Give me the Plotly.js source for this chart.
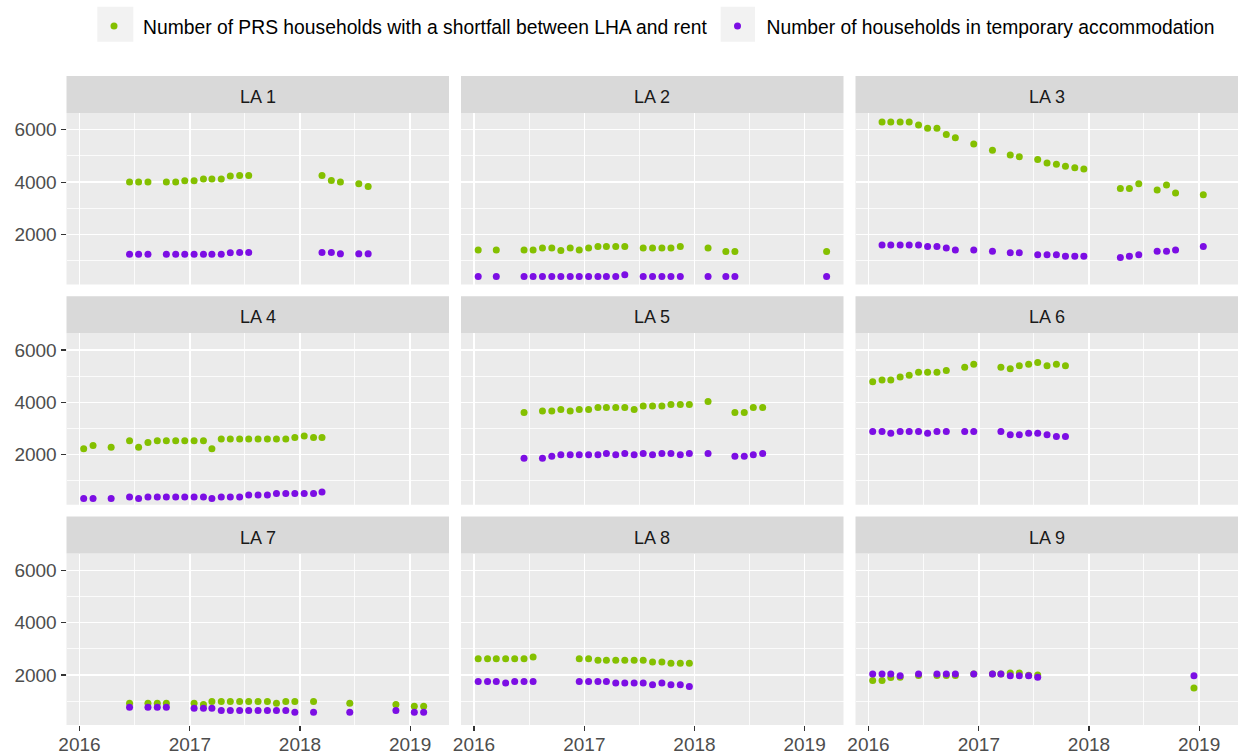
<!DOCTYPE html>
<html>
<head>
<meta charset="utf-8">
<script src="https://cdn.plot.ly/plotly-3.0.1.min.js"></script>
<style>
  html, body { margin: 0; padding: 0; background: #ffffff; }
  #chart { width: 1239px; height: 756px; }
</style>
</head>
<body>
<div id="chart"></div>
<script>
// ---- data ---------------------------------------------------------------
const panelNames = ['LA 1', 'LA 2', 'LA 3', 'LA 4', 'LA 5', 'LA 6', 'LA 7', 'LA 8', 'LA 9'];
const seriesNames = [
  'Number of PRS households with a shortfall between LHA and rent',
  'Number of households in temporary accommodation'
];
const yearTicks = [2016, 2017, 2018, 2019];
const valueTicks = [2000, 4000, 6000];

const la1Months = ['2016-06','2016-07','2016-08','2016-10','2016-11','2016-12','2017-01','2017-02','2017-03','2017-04','2017-05','2017-06','2017-07','2018-03','2018-04','2018-05','2018-07','2018-08'];
const la1Shortfall = [4000,4000,4000,4000,4000,4050,4050,4120,4120,4120,4230,4250,4250,4250,4060,4000,3940,3830];
const la1Temporary = [1250,1250,1250,1250,1250,1250,1250,1250,1250,1250,1300,1310,1310,1310,1310,1260,1260,1260];

const la2Months = ['2016-01','2016-03','2016-06','2016-07','2016-08','2016-09','2016-10','2016-11','2016-12','2017-01','2017-02','2017-03','2017-04','2017-05','2017-07','2017-08','2017-09','2017-10','2017-11','2018-02','2018-04','2018-05','2019-03'];
const la2Shortfall = [1410,1410,1410,1410,1480,1480,1390,1480,1410,1480,1540,1540,1540,1540,1480,1480,1480,1480,1540,1480,1350,1350,1350];
const la2Temporary = [400,400,400,400,400,400,400,400,400,400,400,400,400,460,400,400,400,400,400,400,400,400,400];

const la3Months = ['2016-02','2016-03','2016-04','2016-05','2016-06','2016-07','2016-08','2016-09','2016-10','2016-12','2017-02','2017-04','2017-05','2017-07','2017-08','2017-09','2017-10','2017-11','2017-12','2018-04','2018-05','2018-06','2018-08','2018-09','2018-10','2019-01'];
const la3Shortfall = [6300,6300,6300,6300,6180,6060,6060,5820,5690,5460,5220,5040,4970,4860,4730,4680,4610,4550,4500,3760,3760,3940,3700,3890,3580,3520];
const la3Temporary = [1600,1600,1600,1600,1600,1540,1540,1480,1410,1410,1360,1300,1300,1230,1230,1230,1170,1170,1170,1120,1170,1230,1360,1360,1410,1540];

const la4Months = ['2016-01','2016-02','2016-04','2016-06','2016-07','2016-08','2016-09','2016-10','2016-11','2016-12','2017-01','2017-02','2017-03','2017-04','2017-05','2017-06','2017-07','2017-08','2017-09','2017-10','2017-11','2017-12','2018-01','2018-02','2018-03'];
const la4Shortfall = [2230,2350,2290,2530,2290,2470,2530,2530,2530,2530,2530,2530,2230,2600,2600,2600,2600,2600,2600,2600,2600,2660,2720,2660,2660];
const la4Temporary = [330,330,330,390,330,390,390,390,390,390,390,390,330,390,390,390,460,460,460,520,520,520,520,520,580];

const la5Months = ['2016-06','2016-08','2016-09','2016-10','2016-11','2016-12','2017-01','2017-02','2017-03','2017-04','2017-05','2017-06','2017-07','2017-08','2017-09','2017-10','2017-11','2017-12','2018-02','2018-05','2018-06','2018-07','2018-08'];
const la5Shortfall = [3610,3670,3670,3730,3670,3730,3730,3800,3800,3800,3800,3730,3860,3860,3860,3920,3920,3920,4030,3610,3610,3800,3800];
const la5Temporary = [1870,1870,1940,2000,2000,2000,2000,2000,2050,2000,2050,2000,2050,2000,2050,2050,2000,2050,2050,1940,1940,2000,2050];

const la6Months = ['2016-01','2016-02','2016-03','2016-04','2016-05','2016-06','2016-07','2016-08','2016-09','2016-11','2016-12','2017-03','2017-04','2017-05','2017-06','2017-07','2017-08','2017-09','2017-10'];
const la6Shortfall = [4790,4850,4850,4970,5040,5150,5150,5150,5220,5340,5460,5340,5280,5400,5460,5520,5400,5460,5400];
const la6Temporary = [2890,2890,2820,2890,2890,2890,2820,2890,2890,2890,2890,2890,2760,2760,2820,2820,2760,2700,2700];

const la7Months = ['2016-06','2016-08','2016-09','2016-10','2017-01','2017-02','2017-03','2017-04','2017-05','2017-06','2017-07','2017-08','2017-09','2017-10','2017-11','2017-12','2018-02','2018-06','2018-11','2019-01','2019-02'];
const la7Shortfall = [920,920,920,920,920,870,990,990,990,990,990,990,990,920,990,990,990,920,870,810,810];
const la7Temporary = [770,770,770,770,730,730,730,640,640,640,640,640,640,640,640,580,580,580,640,580,580];

const la8Months = ['2016-01','2016-02','2016-03','2016-04','2016-05','2016-06','2016-07','2016-12','2017-01','2017-02','2017-03','2017-04','2017-05','2017-06','2017-07','2017-08','2017-09','2017-10','2017-11','2017-12'];
const la8Shortfall = [2620,2620,2620,2620,2620,2620,2690,2620,2620,2560,2560,2560,2560,2560,2560,2500,2500,2450,2450,2450];
const la8Temporary = [1750,1750,1750,1690,1750,1750,1750,1750,1750,1750,1750,1690,1690,1690,1690,1630,1690,1630,1630,1560];

const la9Months = ['2016-01','2016-02','2016-03','2016-04','2016-06','2016-08','2016-09','2016-10','2016-12','2017-02','2017-03','2017-04','2017-05','2017-06','2017-07','2018-12'];
const la9Shortfall = [1790,1790,1900,1910,1980,1980,1980,1980,2040,2040,2040,2080,2080,1990,2000,1500];
const la9Temporary = [2040,2040,2040,1970,2040,2040,2040,2040,2040,2040,2040,1970,1970,1970,1910,1970];

// ---- styling ------------------------------------------------------------
const W = 1239, H = 756;
const FONT = 'Liberation Sans, Arial, sans-serif';
const seriesColors = ['#84C000', '#7C0EE4'];

const panels = [
  { months: la1Months, values: [la1Shortfall, la1Temporary] },
  { months: la2Months, values: [la2Shortfall, la2Temporary] },
  { months: la3Months, values: [la3Shortfall, la3Temporary] },
  { months: la4Months, values: [la4Shortfall, la4Temporary] },
  { months: la5Months, values: [la5Shortfall, la5Temporary] },
  { months: la6Months, values: [la6Shortfall, la6Temporary] },
  { months: la7Months, values: [la7Shortfall, la7Temporary] },
  { months: la8Months, values: [la8Shortfall, la8Temporary] },
  { months: la9Months, values: [la9Shortfall, la9Temporary] }
];

// facet grid geometry (pixels)
const colLeft = [66.5, 461, 855.5], colWidth = 382.5;
const rowTop = [76, 296.25, 516.5], stripH = 37, panelH = 171.5;
const px = v => v / W;
const py = v => 1 - v / H;

const xRange = ['2015-11-19', '2019-05-10'];
const yRange = [90, 6640];
const yearDate = y => y + '-01-01';
const midYear = y => y + '-07-02';

const traces = [];
const layout = {
  width: W, height: H,
  margin: { l: 0, r: 0, t: 0, b: 0, autoexpand: false },
  paper_bgcolor: '#ffffff',
  plot_bgcolor: '#EBEBEB',
  font: { family: FONT, color: '#4D4D4D' },
  showlegend: true,
  legend: {
    orientation: 'h',
    x: 85 / W, y: py(7), xanchor: 'left', yanchor: 'top',
    font: { family: FONT, size: 19.3, color: '#000000' },
    itemwidth: 48,
    bgcolor: 'rgba(0,0,0,0)',
    borderwidth: 0
  },
  shapes: [],
  annotations: [],
  hovermode: false
};

// grey key backgrounds behind the legend symbols
[[97.3, 133.3], [720.7, 755]].forEach(([a, b]) => {
  layout.shapes.push({
    type: 'rect', xref: 'paper', yref: 'paper', layer: 'below',
    x0: px(a), x1: px(b), y0: py(41.7), y1: py(6.7),
    fillcolor: '#F2F2F2', line: { width: 0 }
  });
});

panels.forEach((p, i) => {
  const r = Math.floor(i / 3), c = i % 3;
  const sfx = i === 0 ? '' : String(i + 1);
  const x = p.months.map(m => m + '-15');

  p.values.forEach((vals, s) => {
    const tr = {
      type: 'scatter', mode: 'markers',
      x: x, y: vals,
      xaxis: 'x' + sfx, yaxis: 'y' + sfx,
      name: seriesNames[s], legendgroup: 's' + s,
      showlegend: i === 0,
      marker: { color: seriesColors[s], size: 7, line: { width: 0 } },
      cliponaxis: false
    };
    // fixed width for the first legend entry so the second key lines up
    if (i === 0 && s === 0) tr.legendwidth = 560.5;
    traces.push(tr);
  });

  const top = rowTop[r] + stripH, bottom = top + panelH;
  const left = colLeft[c], right = colLeft[c] + colWidth;
  const bottomRow = r === 2, leftCol = c === 0;

  layout['xaxis' + sfx] = {
    type: 'date', domain: [px(left), px(right)], anchor: 'y' + sfx,
    range: xRange, fixedrange: true,
    tickmode: 'array',
    tickvals: yearTicks.map(yearDate),
    ticktext: yearTicks.map(String),
    showticklabels: bottomRow,
    ticks: bottomRow ? 'outside' : '', ticklen: 5, tickwidth: 1.1, tickcolor: '#333333',
    ticklabelstandoff: -3,
    tickfont: { family: FONT, size: 19, color: '#4D4D4D' },
    showgrid: true, gridcolor: '#ffffff', gridwidth: 1.4,
    minor: { tickmode: 'array', tickvals: yearTicks.slice(0, 3).map(midYear), showgrid: true, gridcolor: '#ffffff', gridwidth: 0.8, ticks: '' },
    zeroline: false, showline: false
  };
  layout['yaxis' + sfx] = {
    domain: [py(bottom), py(top)], anchor: 'x' + sfx,
    range: yRange, fixedrange: true,
    tickmode: 'array', tickvals: valueTicks, ticktext: valueTicks.map(String),
    showticklabels: leftCol,
    ticks: leftCol ? 'outside' : '', ticklen: 5, tickwidth: 1.1, tickcolor: '#333333',
    tickfont: { family: FONT, size: 19, color: '#4D4D4D' },
    showgrid: true, gridcolor: '#ffffff', gridwidth: 1.4,
    minor: { tickmode: 'array', tickvals: [1000, 3000, 5000], showgrid: true, gridcolor: '#ffffff', gridwidth: 0.8, ticks: '' },
    zeroline: false, showline: false
  };

  // facet strip
  layout.shapes.push({
    type: 'rect', xref: 'paper', yref: 'paper', layer: 'below',
    x0: px(left), x1: px(right), y0: py(top), y1: py(rowTop[r]),
    fillcolor: '#D9D9D9', line: { width: 0 }
  });
  layout.annotations.push({
    xref: 'paper', yref: 'paper',
    x: px((left + right) / 2), y: py(rowTop[r] + stripH / 2),
    xanchor: 'center', yanchor: 'middle', yshift: -2.5,
    text: panelNames[i], showarrow: false,
    font: { family: FONT, size: 18, color: '#1A1A1A' }
  });
});

Plotly.newPlot('chart', traces, layout, { staticPlot: true, displayModeBar: false });
</script>
</body>
</html>
